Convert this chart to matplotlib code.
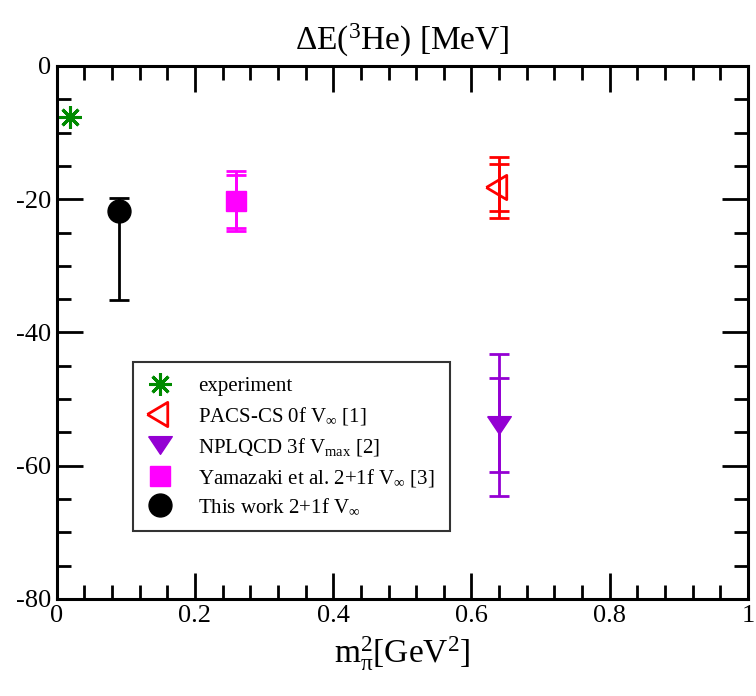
import numpy as np
from matplotlib import pyplot as plt
from matplotlib.ticker import MultipleLocator

plt.rcParams['font.family'] = ['Liberation Serif', 'DejaVu Serif']
plt.rcParams['mathtext.fontset'] = 'custom'
plt.rcParams['mathtext.rm'] = 'Liberation Serif'
plt.rcParams['mathtext.it'] = 'Liberation Serif:italic'
plt.rcParams['mathtext.bf'] = 'Liberation Serif:bold'
plt.rcParams['axes.unicode_minus'] = False

# data: m_pi^2 [GeV^2], Delta E [MeV], stat error, total error
expX, expY = 0.0196, -7.72

pacsX, pacsY, pacsStat, pacsTot = 0.64, -18.2, 3.5, 4.55
nplX, nplY, nplStat, nplTot = 0.64, -53.9, 7.1, 10.7
yamX, yamY, yamStat, yamTot = 0.26, -20.3, 4.0, 4.5
thisX, thisY = 0.09, -21.8
thisErrUp, thisErrDn = 2.0, 13.4

labels = ['experiment',
          r'PACS-CS 0f V$_\infty$ [1]',
          r'NPLQCD 3f V$_{\rm max}$ [2]',
          r'Yamazaki et al. 2+1f V$_\infty$ [3]',
          r'This work 2+1f V$_\infty$']

green = '#008b00'
red = '#ff0000'
violet = '#9400d3'
magenta = '#ff00ff'

triLeft = [(-1, 0), (0.55, 0.92), (0.55, -0.92), (-1, 0)]
triDown = [(-1, 0.75), (1, 0.75), (0, -0.75), (-1, 0.75)]

fig = plt.figure(figsize=(7.56, 6.96), dpi=100)
ax = fig.add_axes([0.075, 0.1394, 0.9144, 0.7658])

ebkw = dict(fmt='none', capsize=7, elinewidth=2, capthick=2)

# error bars (stat and total -> double caps)
ax.errorbar([pacsX], [pacsY], yerr=pacsStat, ecolor=red, **ebkw)
ax.errorbar([pacsX], [pacsY], yerr=pacsTot, ecolor=red, **ebkw)
ax.errorbar([nplX], [nplY], yerr=nplStat, ecolor=violet, **ebkw)
ax.errorbar([nplX], [nplY], yerr=nplTot, ecolor=violet, **ebkw)
ax.errorbar([yamX], [yamY], yerr=yamStat, ecolor=magenta, **ebkw)
ax.errorbar([yamX], [yamY], yerr=yamTot, ecolor=magenta, **ebkw)
ax.errorbar([thisX], [thisY], yerr=[[thisErrDn], [thisErrUp]], ecolor='black', **ebkw)

h = []
h += ax.plot([expX], [expY], ls='none', marker=(8, 2, 0), ms=16, mew=2.2,
             color=green, label=labels[0])
h += ax.plot([pacsX], [pacsY], ls='none', marker=triLeft, ms=19, mew=2,
             mfc='none', mec=red, label=labels[1])
h += ax.plot([nplX], [nplY], ls='none', marker=triDown, ms=17, mew=1,
             color=violet, label=labels[2])
h += ax.plot([yamX], [yamY], ls='none', marker='s', ms=14, color=magenta,
             label=labels[3])
h += ax.plot([thisX], [thisY], ls='none', marker='o', ms=16.5, color='black',
             label=labels[4])

ax.set_xlim(0, 1)
ax.set_ylim(-80, 0)
ax.xaxis.set_minor_locator(MultipleLocator(0.04))
ax.yaxis.set_major_locator(MultipleLocator(20))
ax.yaxis.set_minor_locator(MultipleLocator(5))
ax.set_xticks(np.arange(0, 1.01, 0.2))
ax.set_xticklabels(['0', '0.2', '0.4', '0.6', '0.8', '1'])
ax.tick_params(which='both', direction='in', top=True, right=True,
               labelsize=19, width=2)
ax.tick_params(which='major', length=19, pad=4)
ax.tick_params(which='minor', length=10)
for s in ax.spines.values():
  s.set_linewidth(2.2)

ax.set_title(r'$\Delta$E($^{3}$He) [MeV]', fontsize=24, pad=12)
ax.set_xlabel(r'm$_\mathrm{π}^2$[GeV$^2$]', fontsize=24, labelpad=6)

leg = ax.legend(handles=h, loc='upper left', bbox_to_anchor=(0.11, 0.4444),
                borderaxespad=0, fontsize=15, fancybox=False, edgecolor='#333333',
                framealpha=1, labelspacing=0.42, handlelength=1.2,
                handletextpad=1.25, borderpad=0.7, numpoints=1)
leg.get_frame().set_linewidth(1.5)

fig.savefig('out.png', dpi=100)
